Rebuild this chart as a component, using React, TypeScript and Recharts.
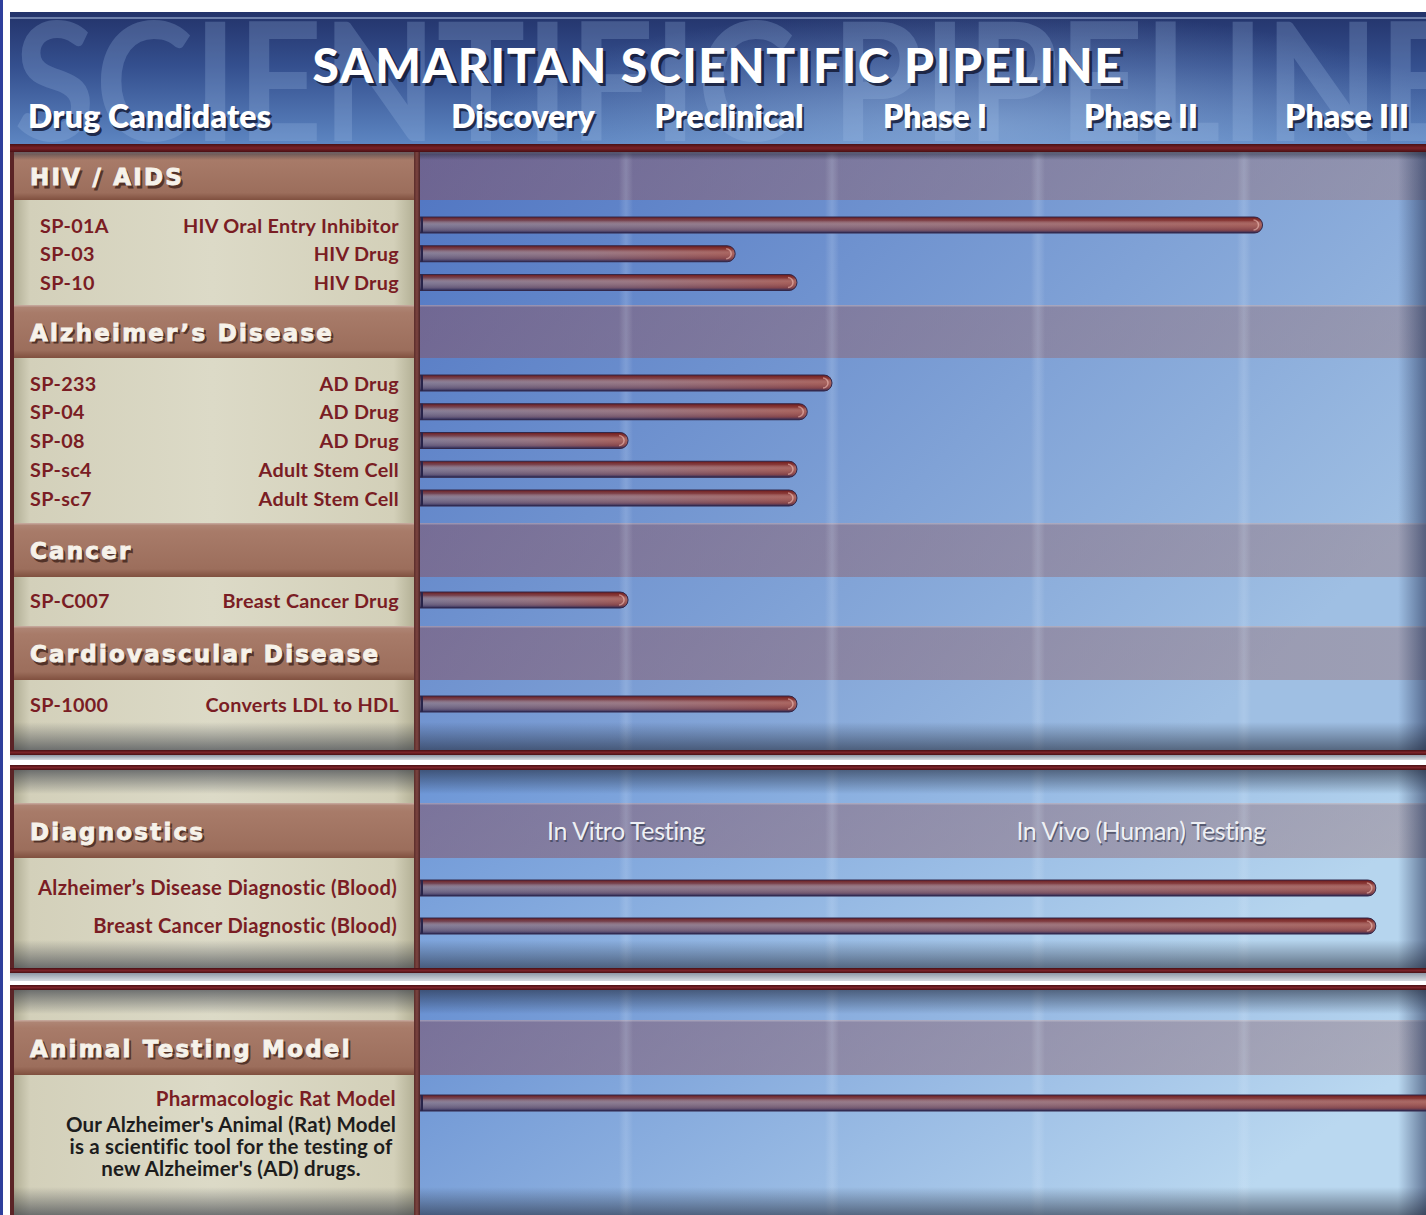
import React from 'react'
import { BarChart, Bar, XAxis, YAxis } from 'recharts'

// column heads of the pipeline (one phase per unit on the x scale)
const PHASES = ['Discovery', 'Preclinical', 'Phase I', 'Phase II', 'Phase III']
const DIAG_STAGES = ['In Vitro Testing', 'In Vivo (Human) Testing']
const DIAG_STAGE_AT = [1, 3.5]

const SECTIONS = ['HIV / AIDS', 'Alzheimer’s Disease', 'Cancer', 'Cardiovascular Disease', 'Diagnostics', 'Animal Testing Model']

const HIV_IDS = ['SP-01A', 'SP-03', 'SP-10']
const HIV_NAMES = ['HIV Oral Entry Inhibitor', 'HIV Drug', 'HIV Drug']
const HIV_STAGE = [4.09, 1.53, 1.83]

const AD_IDS = ['SP-233', 'SP-04', 'SP-08', 'SP-sc4', 'SP-sc7']
const AD_NAMES = ['AD Drug', 'AD Drug', 'AD Drug', 'Adult Stem Cell', 'Adult Stem Cell']
const AD_STAGE = [2.0, 1.88, 1.01, 1.83, 1.83]

const CANCER_IDS = ['SP-C007']
const CANCER_NAMES = ['Breast Cancer Drug']
const CANCER_STAGE = [1.01]

const CV_IDS = ['SP-1000']
const CV_NAMES = ['Converts LDL to HDL']
const CV_STAGE = [1.83]

const DIAG_NAMES = ['Alzheimer’s Disease Diagnostic (Blood)', 'Breast Cancer Diagnostic (Blood)']
const DIAG_STAGE = [4.64, 4.64]

const ANIMAL_NAMES = ['Pharmacologic Rat Model']
const ANIMAL_STAGE = [4.98]
const ANIMAL_NOTE = ["Our Alzheimer's Animal (Rat) Model", 'is a scientific tool for the testing of', "new Alzheimer's (AD) drugs."]

type Row = { id: string; name: string; stage: number }

const toRows = (ids: string[], names: string[], stage: number[]): Row[] =>
  ids.map((id, i) => ({ id, name: names[i], stage: stage[i] }))

const LABEL_RED = '#7a1d24'
const PLOT_X = 420
const COL_W = 206

function Tube(props: any) {
  const { x, y, width, height } = props
  if (!width || width <= 0) return null
  const r = height / 2
  const d = `M${x},${y} H${x + width - r} A${r},${r} 0 0 1 ${x + width - r},${y + height} H${x} Z`
  return (
    <g>
      <path d={d} fill="url(#tubeBase)" />
      <path d={d} fill="url(#tubeShade)" />
      <path
        d={`M${x + width - r - 1},${y + 3} A${r - 3},${r - 3} 0 0 1 ${x + width - r - 1},${y + height - 3}`}
        fill="none" stroke="rgba(255,210,200,0.5)" strokeWidth={1.5}
      />
      <path d={d} fill="none" stroke="#32284a" strokeWidth={1} />
      <line x1={x + 2} x2={x + 2} y1={y} y2={y + height} stroke="#28244a" strokeWidth={2} />
    </g>
  )
}

function Lane({ rows, top, rowH, axisH = 0, ticks, tickLabel, tickDy = 0, tickKind, codeX, nameX = 399, labelDy = 0, labelSize = 19.8 }: any) {
  const plotH = rows.length * rowH

  const LabelTick = (p: any) => {
    const row = rows.find((r: Row) => r.id === p.payload.value)
    if (!row) return null
    const y = p.y + labelDy
    return (
      <g fill={LABEL_RED} fontSize={labelSize} fontWeight={700} fontFamily="Lato" letterSpacing={0.3}>
        {codeX != null && <text x={codeX} y={y} dy="0.36em">{row.id}</text>}
        <text x={nameX} y={y} dy="0.36em" textAnchor="end">{row.name}</text>
      </g>
    )
  }

  const TopTick = (p: any) => {
    const label = tickLabel(p.payload.value)
    const y = p.y + tickDy
    if (tickKind === 'phase') {
      return (
        <g fontFamily="Lato" fontSize={32} fontWeight={800} textAnchor="middle">
          <text x={p.x + 2} y={y + 3} fill="#141c3a" opacity={0.85}>{label}</text>
          <text x={p.x} y={y} fill="#ffffff">{label}</text>
        </g>
      )
    }
    return (
      <g fontFamily="Lato" fontSize={25} fontWeight={400} textAnchor="middle" letterSpacing={-0.4}>
        <text x={p.x + 1} y={y + 2} fill="#3a3f55" opacity={0.7}>{label}</text>
        <text x={p.x} y={y} fill="#eef0f4">{label}</text>
      </g>
    )
  }

  return (
    <div style={{ position: 'absolute', left: 0, top: top - axisH }}>
      <BarChart
        layout="vertical" width={PLOT_X + COL_W * 5} height={axisH + plotH} data={rows}
        margin={{ top: 0, right: 0, bottom: 0, left: 0 }}
      >
        <XAxis
          type="number" domain={[0, 5]} orientation="top" hide={!ticks} height={axisH || 30}
          ticks={ticks} interval={0} tick={TopTick} tickLine={false} axisLine={false}
          tickSize={0} tickMargin={0} allowDataOverflow
        />
        <YAxis
          type="category" dataKey="id" width={PLOT_X} interval={0}
          tick={LabelTick} tickLine={false} axisLine={false}
        />
        <Bar dataKey="stage" barSize={16} shape={Tube} isAnimationActive={false} />
      </BarChart>
    </div>
  )
}

function SectionLabel({ y, text }: { y: number; text: string }) {
  return (
    <g fontFamily="'DejaVu Sans'" fontWeight={700} fontSize={23} letterSpacing={2.2}>
      <text x={32} y={y + 2.5} fill="#3a1e16" opacity={0.75} stroke="#3a1e16" strokeWidth={0.9}>{text}</text>
      <text x={30} y={y} fill="#f6f2ea" stroke="#f6f2ea" strokeWidth={0.9}>{text}</text>
    </g>
  )
}

function Backdrop() {
  const panels = [
    { top: 152, bottom: 750, grad: 'blue1' },
    { top: 770, bottom: 968, grad: 'blue2' },
    { top: 990, bottom: 1215, grad: 'blue3' },
  ]
  const bands = [
    [152, 48], [305, 53], [523, 54], [626, 54], [803, 55], [1020, 55],
  ]
  const stripes = [1, 2, 3, 4].map(k => PLOT_X + COL_W * k)
  return (
    <svg width={1426} height={1215} style={{ position: 'absolute', left: 0, top: 0 }}>
      <defs>
        <linearGradient id="tubeBase" x1="0" y1="0" x2="1" y2="0">
          <stop offset="0" stopColor="#6e6685" />
          <stop offset="0.55" stopColor="#86606f" />
          <stop offset="1" stopColor="#9a4842" />
        </linearGradient>
        <linearGradient id="tubeShade" x1="0" y1="0" x2="0" y2="1">
          <stop offset="0" stopColor="#6a1414" stopOpacity={0.95} />
          <stop offset="0.22" stopColor="#7a2a2a" stopOpacity={0.5} />
          <stop offset="0.5" stopColor="#ffffff" stopOpacity={0.14} />
          <stop offset="0.82" stopColor="#3c3460" stopOpacity={0.2} />
          <stop offset="1" stopColor="#1e2050" stopOpacity={0.95} />
        </linearGradient>
        <linearGradient id="hdrGrad" x1="0" y1="0" x2="0" y2="1">
          <stop offset="0" stopColor="#23336a" />
          <stop offset="0.4" stopColor="#344f8e" />
          <stop offset="1" stopColor="#5e87c3" />
        </linearGradient>
        <radialGradient id="hdrGlow" cx="0.68" cy="0.85" r="0.35" gradientTransform="translate(0.68 0.85) scale(1 2.5) translate(-0.68 -0.85)">
          <stop offset="0" stopColor="#a8c6ea" stopOpacity={0.45} />
          <stop offset="1" stopColor="#a8c6ea" stopOpacity={0} />
        </radialGradient>
        <linearGradient id="redBar" x1="0" y1="0" x2="0" y2="1">
          <stop offset="0" stopColor="#4a1014" />
          <stop offset="0.5" stopColor="#7a2228" />
          <stop offset="1" stopColor="#4a1014" />
        </linearGradient>
        <linearGradient id="beigeH" x1="0" y1="0" x2="1" y2="0">
          <stop offset="0" stopColor="#a9a68c" />
          <stop offset="0.05" stopColor="#d3d0ba" />
          <stop offset="0.5" stopColor="#dcdac7" />
          <stop offset="0.95" stopColor="#d3d0b9" />
          <stop offset="1" stopColor="#b4b196" />
        </linearGradient>
        <linearGradient id="brownV" x1="0" y1="0" x2="0" y2="1">
          <stop offset="0" stopColor="#b08878" />
          <stop offset="0.15" stopColor="#a87b69" />
          <stop offset="0.85" stopColor="#9c6e5c" />
          <stop offset="1" stopColor="#80503f" />
        </linearGradient>
        <linearGradient id="blue1" x1="0" y1="0" x2="1" y2="0.6">
          <stop offset="0" stopColor="#5075c2" />
          <stop offset="1" stopColor="#9fbfe3" />
        </linearGradient>
        <linearGradient id="blue2" x1="0" y1="0" x2="1" y2="0.3">
          <stop offset="0" stopColor="#6c95d6" />
          <stop offset="1" stopColor="#b6d5ee" />
        </linearGradient>
        <linearGradient id="blue3" x1="0" y1="0" x2="1" y2="0.3">
          <stop offset="0" stopColor="#6890d2" />
          <stop offset="1" stopColor="#bad8f0" />
        </linearGradient>
        <linearGradient id="bandR" x1="0" y1="0" x2="1" y2="0">
          <stop offset="0" stopColor="#84566a" stopOpacity={0.55} />
          <stop offset="1" stopColor="#9a8088" stopOpacity={0.5} />
        </linearGradient>
        <linearGradient id="stripe" x1="0" y1="0" x2="1" y2="0">
          <stop offset="0" stopColor="#ffffff" stopOpacity={0} />
          <stop offset="0.5" stopColor="#dfeeff" stopOpacity={0.18} />
          <stop offset="1" stopColor="#ffffff" stopOpacity={0} />
        </linearGradient>
        <linearGradient id="edgeR" x1="0" y1="0" x2="1" y2="0">
          <stop offset="0" stopColor="#1c2a50" stopOpacity={0} />
          <stop offset="1" stopColor="#1c2a50" stopOpacity={0.55} />
        </linearGradient>
        <linearGradient id="shadeTop" x1="0" y1="0" x2="0" y2="1">
          <stop offset="0" stopColor="#1a2030" stopOpacity={0.55} />
          <stop offset="1" stopColor="#1a2030" stopOpacity={0} />
        </linearGradient>
        <linearGradient id="shadeBot" x1="0" y1="0" x2="0" y2="1">
          <stop offset="0" stopColor="#1a2030" stopOpacity={0} />
          <stop offset="1" stopColor="#1a2030" stopOpacity={0.55} />
        </linearGradient>
        <linearGradient id="divider" x1="0" y1="0" x2="1" y2="0">
          <stop offset="0" stopColor="#5a2c2a" />
          <stop offset="0.5" stopColor="#7c4440" />
          <stop offset="1" stopColor="#4a2428" />
        </linearGradient>
        <linearGradient id="greyGap" x1="0" y1="0" x2="0" y2="1">
          <stop offset="0" stopColor="#8e96a4" />
          <stop offset="1" stopColor="#d8dce2" />
        </linearGradient>
      </defs>

      <rect x={0} y={0} width={3} height={1215} fill="#2e3f9c" />

      {/* header */}
      <rect x={10} y={12} width={1416} height={134} fill="url(#hdrGrad)" />
      <rect x={10} y={12} width={1416} height={134} fill="url(#hdrGlow)" />
      <rect x={10} y={17} width={1416} height={2} fill="#a9bcdc" opacity={0.55} />
      <text x={14} y={141} fontFamily="Lato" fontWeight={700} fontSize={164} fill="#a4c2ea" opacity={0.24}
        textLength={1450} lengthAdjust="spacingAndGlyphs">SCIENTIFIC PIPELINE</text>
      <g fontFamily="Lato" fontWeight={900} fontSize={48} textAnchor="middle" letterSpacing={1.6}>
        <text x={721} y={86} fill="#141a36" opacity={0.85}>SAMARITAN SCIENTIFIC PIPELINE</text>
        <text x={718} y={83} fill="#ffffff">SAMARITAN SCIENTIFIC PIPELINE</text>
      </g>
      <g fontFamily="Lato" fontWeight={800} fontSize={32} letterSpacing={0.2}>
        <text x={30} y={131} fill="#141c3a" opacity={0.85}>Drug Candidates</text>
        <text x={28} y={128} fill="#ffffff">Drug Candidates</text>
      </g>
      <rect x={10} y={144} width={1416} height={8} fill="url(#redBar)" />

      {panels.map(p => (
        <g key={p.top}>
          <rect x={10} y={p.top} width={404} height={p.bottom - p.top} fill="url(#beigeH)" />
          <rect x={PLOT_X} y={p.top} width={1426 - PLOT_X} height={p.bottom - p.top} fill={`url(#${p.grad})`} />
        </g>
      ))}

      {bands.map(([y, h], i) => (
        <g key={y}>
          <rect x={14} y={y} width={400} height={h} fill="url(#brownV)" />
          <rect x={PLOT_X} y={y} width={1426 - PLOT_X} height={h} fill="url(#bandR)" />
          <rect x={14} y={y} width={1412} height={1.5} fill="#ffffff" opacity={0.25} />
          <SectionLabel y={y + h / 2 + 9} text={SECTIONS[i]} />
        </g>
      ))}

      {panels.map(p => (
        <g key={'s' + p.top}>
          {stripes.map(sx => (
            <rect key={sx} x={sx - 7} y={p.top} width={14} height={p.bottom - p.top} fill="url(#stripe)" />
          ))}
          <rect x={1398} y={p.top} width={28} height={p.bottom - p.top} fill="url(#edgeR)" />
          <rect x={10} y={p.top} width={1416} height={p.top === 152 ? 8 : 24} fill="url(#shadeTop)" />
          <rect x={10} y={p.bottom - 28} width={1416} height={28} fill="url(#shadeBot)" />
          <rect x={10} y={p.top} width={4} height={p.bottom - p.top} fill="#5b2426" />
          <rect x={414} y={p.top} width={6} height={p.bottom - p.top} fill="url(#divider)" />
        </g>
      ))}

      {/* panel separators */}
      <rect x={10} y={750} width={1416} height={5} fill="url(#redBar)" />
      <rect x={10} y={755} width={1416} height={5} fill="url(#greyGap)" />
      <rect x={10} y={760} width={1416} height={5} fill="#ffffff" />
      <rect x={10} y={765} width={1416} height={5} fill="url(#redBar)" />
      <rect x={10} y={968} width={1416} height={5} fill="url(#redBar)" />
      <rect x={10} y={973} width={1416} height={8} fill="url(#greyGap)" />
      <rect x={10} y={981} width={1416} height={4} fill="#ffffff" />
      <rect x={10} y={985} width={1416} height={5} fill="url(#redBar)" />

      <g fontFamily="Lato" fontWeight={700} fontSize={20.5} fill="#1d1d1d" textAnchor="middle" letterSpacing={0.2}>
        {ANIMAL_NOTE.map((line, i) => (
          <text key={i} x={231} y={1132 + i * 22}>{line}</text>
        ))}
      </g>
    </svg>
  )
}

export default function App() {
  const rowH = 28.75
  return (
    <div style={{
      position: 'absolute', left: 0, top: 0, width: 1426, height: 1215,
      overflow: 'hidden', background: '#ffffff', fontFamily: 'Lato, sans-serif',
    }}>
      <Backdrop />
      <Lane
        rows={toRows(HIV_IDS, HIV_NAMES, HIV_STAGE)} top={210.6} rowH={rowH} axisH={120}
        ticks={PHASES.map((_, i) => i + 0.5)} tickLabel={(v: number) => PHASES[Math.floor(v)]}
        tickKind="phase" tickDy={-82.6} codeX={40}
      />
      <Lane rows={toRows(AD_IDS, AD_NAMES, AD_STAGE)} top={369.1} rowH={rowH} codeX={30} />
      <Lane rows={toRows(CANCER_IDS, CANCER_NAMES, CANCER_STAGE)} top={585.6} rowH={rowH} codeX={30} />
      <Lane rows={toRows(CV_IDS, CV_NAMES, CV_STAGE)} top={689.6} rowH={rowH} codeX={30} />
      <Lane
        rows={toRows(DIAG_NAMES, DIAG_NAMES, DIAG_STAGE)} top={869} rowH={38} axisH={50}
        ticks={DIAG_STAGE_AT} tickLabel={(v: number) => DIAG_STAGES[DIAG_STAGE_AT.indexOf(v)]}
        tickKind="stage" tickDy={-29} nameX={397} labelSize={20.2}
      />
      <Lane
        rows={toRows(ANIMAL_NAMES, ANIMAL_NAMES, ANIMAL_STAGE)} top={1088.6} rowH={rowH}
        nameX={396} labelDy={-5} labelSize={20.5}
      />
    </div>
  )
}
